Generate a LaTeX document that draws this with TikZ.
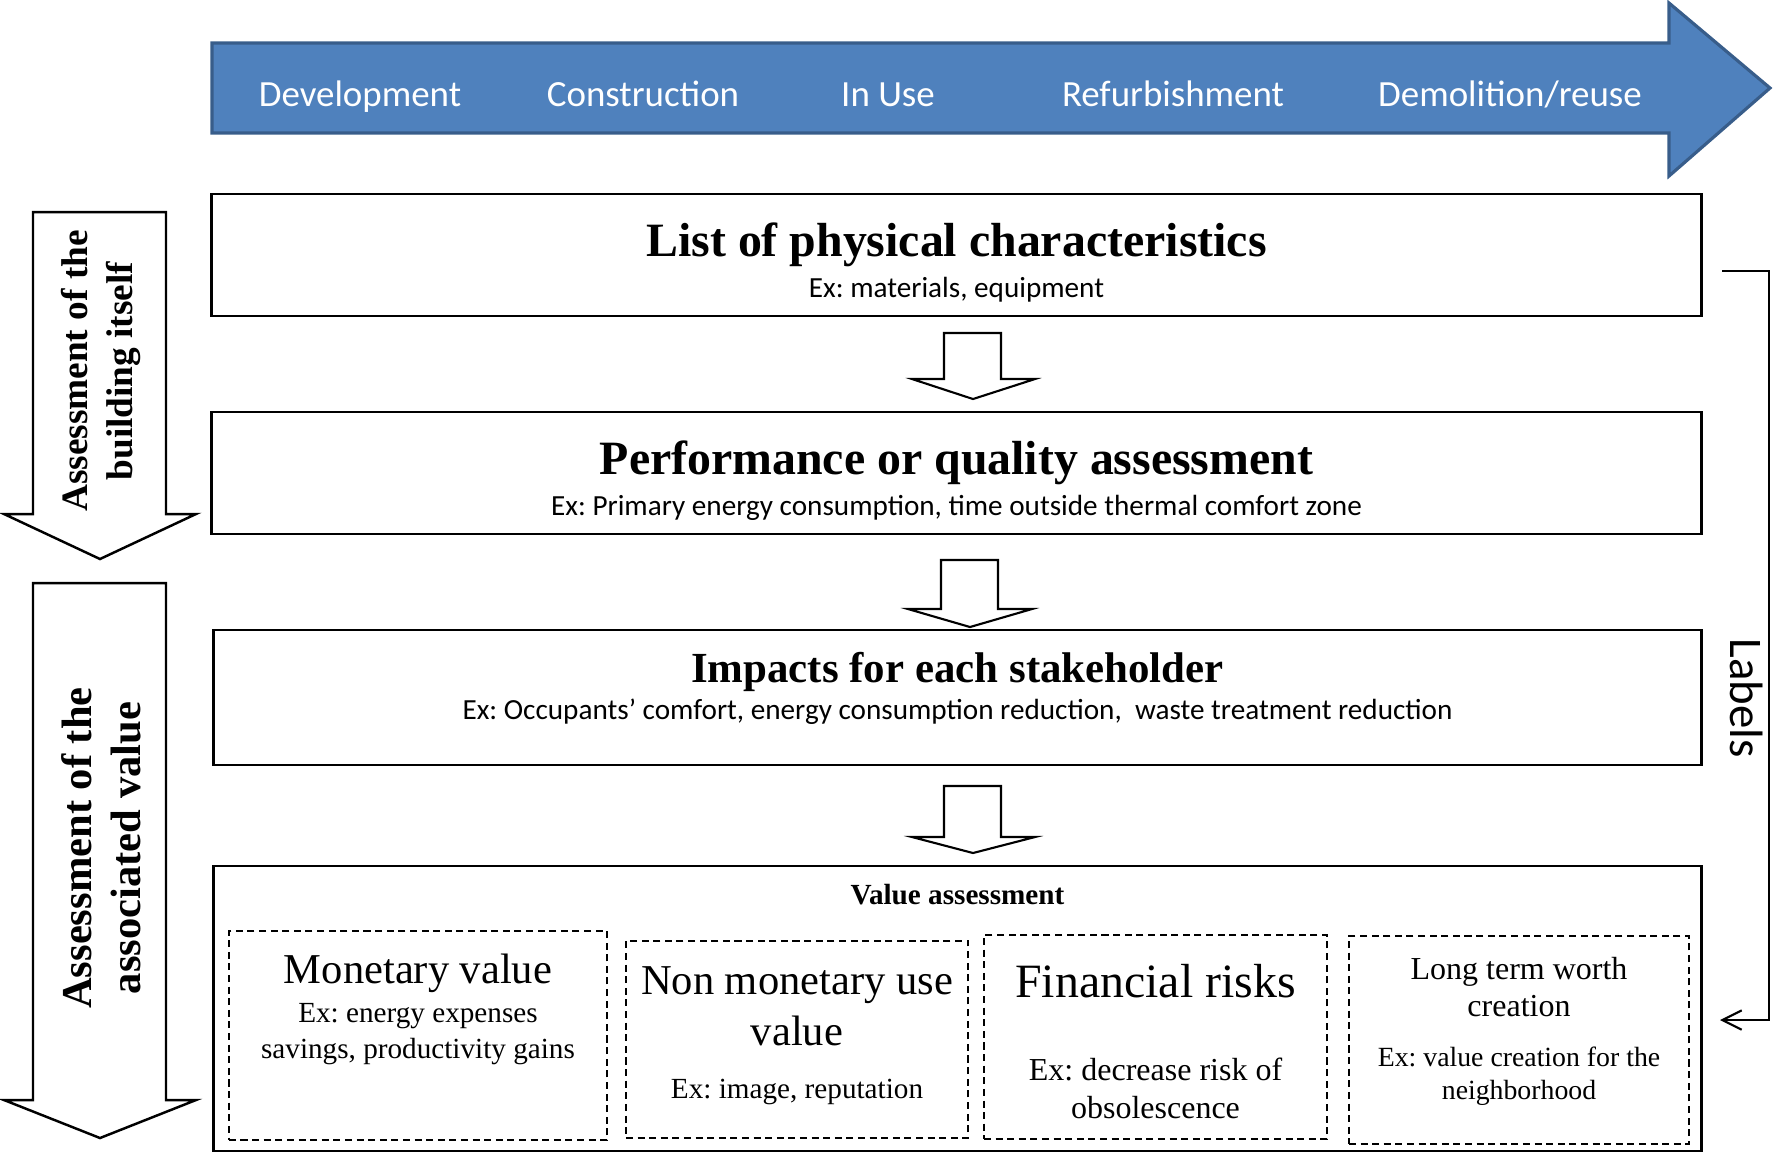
\documentclass[tikz,border=0pt]{standalone}
\usepackage{fontspec}
\setmainfont{Liberation Serif}
\setsansfont{Carlito}
\usepackage{xcolor}
\usepackage{tikz}
\usetikzlibrary{arrows.meta,positioning}
\definecolor{cycle_blue}{RGB}{79,129,189}
\definecolor{cycle_edge}{RGB}{56,93,138}
\frenchspacing

\tikzset{
  box/.style={draw, line width=0.7pt, inner sep=0pt},
  subbox/.style={draw, dash pattern=on 2pt off 1.3pt, line width=0.6pt, inner sep=0pt},
  phase/.style={text=white, text height=1.6ex, text depth=0.5ex,
    font=\sffamily\fontsize{10.5}{12}\selectfont},
  boxtitle/.style={font=\bfseries\fontsize{13.6}{16}\selectfont},
  boxnote/.style={font=\sffamily\fontsize{8.3}{10}\selectfont},
  blockarrow/.style={draw, fill=white, line width=0.6pt, line join=miter},
  sidetext/.style={rotate=90, align=center},
}

\begin{document}
\begin{tikzpicture}[x=0.01cm, y=-0.01cm]
        \useasboundingbox (0,0) rectangle (1773,1153);

        % Life cycle arrow
        \draw[fill=cycle_blue, draw=cycle_edge, line width=0.9pt, line join=miter]
          (212,43) -- (1669,43) -- (1669,3) -- (1770,88) -- (1669,176)
          -- (1669,133) -- (212,133) -- cycle;
        \node[phase] (dev) at (360,97.5) {Development};
        \node[phase] (constr) at (643,97.5) {Construction};
        \node[phase] (inuse) at (888,97.5) {In Use};
        \node[phase] (refurb) at (1173,97.5) {Refurbishment};
        \node[phase] (demol) at (1510,97.5) {Demolition/reuse};

        % Main boxes
        \node[box, minimum width=14.89cm, minimum height=1.22cm] (phys) at (956.5,255) {};
        \node[boxtitle] (physT) at (956.5,244.5) {List of physical characteristics};
        \node[boxnote] (physN) at (956.5,289.5) {Ex: materials, equipment};

        \node[box, minimum width=14.89cm, minimum height=1.22cm] (perf) at (956.5,473) {};
        \node[boxtitle] (perfT) at (956.5,462.5) {Performance or quality assessment};
        \node[boxnote] (perfN) at (956.5,507.5)
          {Ex: Primary energy consumption, time outside thermal comfort zone};

        \node[box, minimum width=14.87cm, minimum height=1.35cm] (impact) at (957.5,697.5) {};
        \node[font=\bfseries\fontsize{12.2}{14}\selectfont] (impactT) at (957.5,671.5)
          {Impacts for each stakeholder};
        \node[boxnote] (impactN) at (957.5,711.5)
          {Ex: Occupants’ comfort, energy consumption reduction,~ waste treatment reduction};

        \node[box, minimum width=14.87cm, minimum height=2.85cm] (value) at (957.5,1008.5) {};
        \node[font=\bfseries\fontsize{8.3}{10}\selectfont] (valueT) at (957.5,895) {Value assessment};

        % Value sub-boxes
        \node[subbox, minimum width=3.78cm, minimum height=2.09cm] (mon) at (418,1035.5) {};
        \node[font=\fontsize{12.1}{14}\selectfont] (monT) at (418,973.5) {Monetary value};
        \node[align=center, font=\fontsize{8.3}{10}\selectfont] (monN) at (418,1034)
          {Ex: energy expenses\\savings, productivity gains};

        \node[subbox, minimum width=3.42cm, minimum height=1.97cm] (nonmon) at (797,1039.5) {};
        \node[align=center, font=\fontsize{12.1}{14.5}\selectfont] (nonmonT) at (797,1006)
          {Non monetary use\\value};
        \node[font=\fontsize{8.3}{10}\selectfont] (nonmonN) at (797,1091.5) {Ex: image, reputation};

        \node[subbox, minimum width=3.43cm, minimum height=2.04cm] (fin) at (1155.5,1037) {};
        \node[font=\fontsize{13.6}{16}\selectfont] (finT) at (1155.5,981.5) {Financial risks};
        \node[align=center, font=\fontsize{9.1}{10.9}\selectfont] (finN) at (1155.5,1088.5)
          {Ex: decrease risk of\\obsolescence};

        \node[subbox, minimum width=3.40cm, minimum height=2.08cm] (worth) at (1519,1040) {};
        \node[align=center, font=\fontsize{9.1}{10.6}\selectfont] (worthT) at (1519,987)
          {Long term worth\\creation};
        \node[align=center, font=\fontsize{7.9}{9.3}\selectfont] (worthN) at (1519,1076.5)
          {Ex: value creation for the\\neighborhood};

        % Block arrows between boxes
        \draw[blockarrow] (944,333) -- (1001,333) -- (1001,379) -- (1035,379)
          -- (973,399) -- (912,379) -- (944,379) -- cycle;
        \draw[blockarrow] (941,560) -- (998,560) -- (998,609) -- (1032,609)
          -- (970,627) -- (908,609) -- (941,609) -- cycle;
        \draw[blockarrow] (944,786) -- (1001,786) -- (1001,837) -- (1035,837)
          -- (973,853) -- (912,837) -- (944,837) -- cycle;

        % Side arrows
        \draw[blockarrow, line width=0.7pt] (33,212) -- (166,212) -- (166,514) -- (196,514)
          -- (100,559) -- (4,514) -- (33,514) -- cycle;
        \node[sidetext, font=\bfseries\fontsize{10.6}{12.8}\selectfont] (building) at (101,371)
          {Assessment of the\\building itself};
        \draw[blockarrow, line width=0.7pt] (33,583) -- (166,583) -- (166,1100) -- (196,1100)
          -- (100,1138) -- (4,1100) -- (33,1100) -- cycle;
        \node[sidetext, font=\bfseries\fontsize{12.1}{14}\selectfont] (assoc) at (101,848)
          {Assessment of the\\associated value};

        % Labels
        \coordinate (lblstart) at (1722,271);
        \coordinate (lblend) at (1720,1020);
        \draw[line width=0.6pt, -{Straight Barb[length=5.5pt,width=5.5pt]}]
          (lblstart) -- ++(47,0) |- (lblend);
        \node[rotate=-90, font=\sffamily\fontsize{13.3}{15}\selectfont] (labels) at (1747,698) {Labels};
      \end{tikzpicture}
\end{document}
